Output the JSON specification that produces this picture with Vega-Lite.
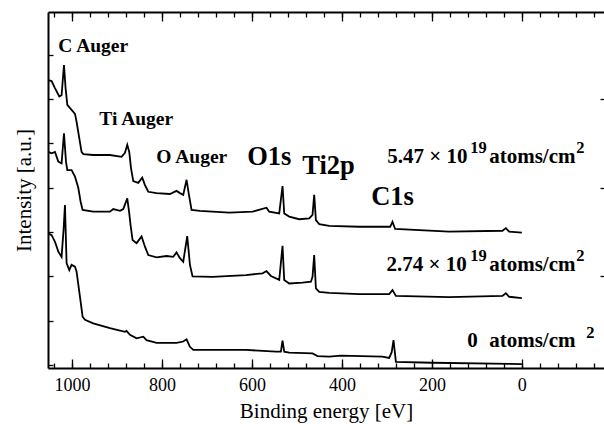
{
  "$schema": "https://vega.github.io/schema/vega-lite/v6.json",
  "autosize": {"type": "none"},
  "padding": {"left": 48, "top": 12, "right": 0, "bottom": 56},
  "width": 556,
  "height": 356,
  "background": "white",
  "config": {
    "view": {"stroke": null},
    "font": "Liberation Serif",
    "axis": {
      "grid": false,
      "domainColor": "black",
      "tickColor": "black",
      "labelColor": "black",
      "titleColor": "black",
      "labelFont": "Liberation Serif",
      "titleFont": "Liberation Serif",
      "titleFontWeight": "normal",
      "domainWidth": 2,
      "tickWidth": 1.3
    }
  },
  "datasets": {
    "spectra": [
      {"series": "5.47e19", "E": 1052.7, "I": 6.43}, {"series": "5.47e19", "E": 1045.3, "I": 6.41}, {"series": "5.47e19", "E": 1037.8, "I": 6.25}, {"series": "5.47e19", "E": 1028.2, "I": 6.06}, {"series": "5.47e19", "E": 1023.1, "I": 6.09}, {"series": "5.47e19", "E": 1017.8, "I": 6.77}, {"series": "5.47e19", "E": 1014.2, "I": 6.25}, {"series": "5.47e19", "E": 1010.4, "I": 5.87}, {"series": "5.47e19", "E": 1000.9, "I": 5.76}, {"series": "5.47e19", "E": 993.3, "I": 5.67}, {"series": "5.47e19", "E": 989.8, "I": 5.49}, {"series": "5.47e19", "E": 983.8, "I": 5.12}, {"series": "5.47e19", "E": 978.7, "I": 4.81}, {"series": "5.47e19", "E": 974.9, "I": 4.76}, {"series": "5.47e19", "E": 952.7, "I": 4.74}, {"series": "5.47e19", "E": 915.6, "I": 4.74}, {"series": "5.47e19", "E": 889.8, "I": 4.70}, {"series": "5.47e19", "E": 882.2, "I": 4.79}, {"series": "5.47e19", "E": 877.1, "I": 4.97}, {"series": "5.47e19", "E": 872.7, "I": 4.81}, {"series": "5.47e19", "E": 868.9, "I": 4.45}, {"series": "5.47e19", "E": 863.8, "I": 4.15}, {"series": "5.47e19", "E": 852.7, "I": 4.11}, {"series": "5.47e19", "E": 843.8, "I": 4.23}, {"series": "5.47e19", "E": 837.8, "I": 4.06}, {"series": "5.47e19", "E": 830.4, "I": 3.91}, {"series": "5.47e19", "E": 812.0, "I": 3.88}, {"series": "5.47e19", "E": 782.2, "I": 3.86}, {"series": "5.47e19", "E": 767.6, "I": 3.93}, {"series": "5.47e19", "E": 760.0, "I": 3.88}, {"series": "5.47e19", "E": 752.7, "I": 3.84}, {"series": "5.47e19", "E": 745.3, "I": 4.18}, {"series": "5.47e19", "E": 740.0, "I": 3.84}, {"series": "5.47e19", "E": 734.2, "I": 3.50}, {"series": "5.47e19", "E": 715.6, "I": 3.48}, {"series": "5.47e19", "E": 650.4, "I": 3.44}, {"series": "5.47e19", "E": 598.7, "I": 3.46}, {"series": "5.47e19", "E": 567.6, "I": 3.55}, {"series": "5.47e19", "E": 561.6, "I": 3.46}, {"series": "5.47e19", "E": 539.3, "I": 3.42}, {"series": "5.47e19", "E": 532.0, "I": 4.04}, {"series": "5.47e19", "E": 528.2, "I": 3.42}, {"series": "5.47e19", "E": 517.1, "I": 3.35}, {"series": "5.47e19", "E": 494.9, "I": 3.29}, {"series": "5.47e19", "E": 472.7, "I": 3.31}, {"series": "5.47e19", "E": 465.3, "I": 3.39}, {"series": "5.47e19", "E": 461.6, "I": 3.84}, {"series": "5.47e19", "E": 457.8, "I": 3.27}, {"series": "5.47e19", "E": 450.4, "I": 3.18}, {"series": "5.47e19", "E": 428.2, "I": 3.14}, {"series": "5.47e19", "E": 361.6, "I": 3.12}, {"series": "5.47e19", "E": 309.8, "I": 3.12}, {"series": "5.47e19", "E": 292.7, "I": 3.12}, {"series": "5.47e19", "E": 287.6, "I": 3.23}, {"series": "5.47e19", "E": 281.6, "I": 3.07}, {"series": "5.47e19", "E": 161.6, "I": 3.01}, {"series": "5.47e19", "E": 43.1, "I": 3.03}, {"series": "5.47e19", "E": 35.6, "I": 3.09}, {"series": "5.47e19", "E": 28.2, "I": 3.01}, {"series": "5.47e19", "E": 0, "I": 2.99},
      {"series": "2.74e19", "E": 1052.7, "I": 4.81}, {"series": "2.74e19", "E": 1045.3, "I": 4.78}, {"series": "2.74e19", "E": 1037.8, "I": 4.81}, {"series": "2.74e19", "E": 1030.4, "I": 4.59}, {"series": "2.74e19", "E": 1023.1, "I": 4.55}, {"series": "2.74e19", "E": 1017.8, "I": 5.23}, {"series": "2.74e19", "E": 1013.3, "I": 4.59}, {"series": "2.74e19", "E": 1010.4, "I": 4.40}, {"series": "2.74e19", "E": 1000.9, "I": 4.40}, {"series": "2.74e19", "E": 993.3, "I": 4.25}, {"series": "2.74e19", "E": 986.0, "I": 4.00}, {"series": "2.74e19", "E": 980.9, "I": 3.69}, {"series": "2.74e19", "E": 976.4, "I": 3.50}, {"series": "2.74e19", "E": 952.7, "I": 3.46}, {"series": "2.74e19", "E": 915.6, "I": 3.46}, {"series": "2.74e19", "E": 908.2, "I": 3.52}, {"series": "2.74e19", "E": 893.3, "I": 3.48}, {"series": "2.74e19", "E": 886.0, "I": 3.52}, {"series": "2.74e19", "E": 877.1, "I": 3.76}, {"series": "2.74e19", "E": 872.7, "I": 3.43}, {"series": "2.74e19", "E": 869.8, "I": 3.16}, {"series": "2.74e19", "E": 865.3, "I": 2.82}, {"series": "2.74e19", "E": 856.4, "I": 2.75}, {"series": "2.74e19", "E": 845.3, "I": 2.90}, {"series": "2.74e19", "E": 837.8, "I": 2.67}, {"series": "2.74e19", "E": 830.4, "I": 2.48}, {"series": "2.74e19", "E": 812.0, "I": 2.43}, {"series": "2.74e19", "E": 789.8, "I": 2.46}, {"series": "2.74e19", "E": 774.9, "I": 2.44}, {"series": "2.74e19", "E": 767.6, "I": 2.54}, {"series": "2.74e19", "E": 760.0, "I": 2.41}, {"series": "2.74e19", "E": 752.7, "I": 2.33}, {"series": "2.74e19", "E": 743.8, "I": 2.91}, {"series": "2.74e19", "E": 737.8, "I": 2.26}, {"series": "2.74e19", "E": 732.0, "I": 2.00}, {"series": "2.74e19", "E": 687.6, "I": 1.99}, {"series": "2.74e19", "E": 613.3, "I": 2.03}, {"series": "2.74e19", "E": 576.4, "I": 2.07}, {"series": "2.74e19", "E": 567.6, "I": 2.12}, {"series": "2.74e19", "E": 557.8, "I": 2.01}, {"series": "2.74e19", "E": 539.3, "I": 1.92}, {"series": "2.74e19", "E": 532.0, "I": 2.69}, {"series": "2.74e19", "E": 528.2, "I": 1.92}, {"series": "2.74e19", "E": 517.1, "I": 1.84}, {"series": "2.74e19", "E": 487.6, "I": 1.86}, {"series": "2.74e19", "E": 468.9, "I": 1.88}, {"series": "2.74e19", "E": 465.3, "I": 1.99}, {"series": "2.74e19", "E": 461.6, "I": 2.48}, {"series": "2.74e19", "E": 457.8, "I": 1.73}, {"series": "2.74e19", "E": 450.4, "I": 1.65}, {"series": "2.74e19", "E": 428.2, "I": 1.63}, {"series": "2.74e19", "E": 361.6, "I": 1.60}, {"series": "2.74e19", "E": 294.9, "I": 1.60}, {"series": "2.74e19", "E": 287.6, "I": 1.69}, {"series": "2.74e19", "E": 280.0, "I": 1.56}, {"series": "2.74e19", "E": 161.6, "I": 1.53}, {"series": "2.74e19", "E": 43.1, "I": 1.56}, {"series": "2.74e19", "E": 35.6, "I": 1.62}, {"series": "2.74e19", "E": 28.2, "I": 1.54}, {"series": "2.74e19", "E": 0, "I": 1.51},
      {"series": "0", "E": 1052.7, "I": 2.97}, {"series": "0", "E": 1045.3, "I": 2.93}, {"series": "0", "E": 1037.8, "I": 2.78}, {"series": "0", "E": 1030.4, "I": 2.56}, {"series": "0", "E": 1023.1, "I": 2.44}, {"series": "0", "E": 1018.7, "I": 3.05}, {"series": "0", "E": 1015.6, "I": 3.61}, {"series": "0", "E": 1012.0, "I": 2.30}, {"series": "0", "E": 1006.0, "I": 2.14}, {"series": "0", "E": 1000.9, "I": 2.26}, {"series": "0", "E": 993.3, "I": 2.22}, {"series": "0", "E": 989.8, "I": 2.11}, {"series": "0", "E": 982.2, "I": 1.54}, {"series": "0", "E": 976.4, "I": 1.09}, {"series": "0", "E": 971.1, "I": 1.02}, {"series": "0", "E": 952.7, "I": 0.94}, {"series": "0", "E": 915.6, "I": 0.83}, {"series": "0", "E": 882.2, "I": 0.75}, {"series": "0", "E": 878.7, "I": 0.77}, {"series": "0", "E": 871.1, "I": 0.68}, {"series": "0", "E": 856.4, "I": 0.60}, {"series": "0", "E": 841.6, "I": 0.64}, {"series": "0", "E": 834.2, "I": 0.56}, {"series": "0", "E": 812.0, "I": 0.50}, {"series": "0", "E": 767.6, "I": 0.50}, {"series": "0", "E": 752.7, "I": 0.53}, {"series": "0", "E": 745.3, "I": 0.58}, {"series": "0", "E": 737.8, "I": 0.41}, {"series": "0", "E": 730.4, "I": 0.34}, {"series": "0", "E": 687.6, "I": 0.34}, {"series": "0", "E": 613.3, "I": 0.34}, {"series": "0", "E": 546.7, "I": 0.30}, {"series": "0", "E": 535.6, "I": 0.30}, {"series": "0", "E": 532.0, "I": 0.55}, {"series": "0", "E": 528.2, "I": 0.30}, {"series": "0", "E": 517.1, "I": 0.28}, {"series": "0", "E": 465.3, "I": 0.26}, {"series": "0", "E": 454.2, "I": 0.20}, {"series": "0", "E": 428.2, "I": 0.19}, {"series": "0", "E": 402.2, "I": 0.21}, {"series": "0", "E": 310.4, "I": 0.19}, {"series": "0", "E": 294.9, "I": 0.16}, {"series": "0", "E": 289.3, "I": 0.29}, {"series": "0", "E": 285.3, "I": 0.56}, {"series": "0", "E": 280.0, "I": 0.07}, {"series": "0", "E": 199.3, "I": 0.05}, {"series": "0", "E": 0, "I": 0.02}
    ],
    "auger": [
      {"E": 1030.4, "I": 7.07, "text": "C Auger"},
      {"E": 939.3, "I": 5.42, "text": "Ti Auger"},
      {"E": 812.7, "I": 4.56, "text": "O Auger"}
    ],
    "peaks": [
      {"E": 610.4, "I": 4.51, "text": "O1s"},
      {"E": 488.2, "I": 4.31, "text": "Ti2p"},
      {"E": 334.9, "I": 3.61, "text": "C1s"}
    ],
    "dose": [
      {"E": 299.3, "I": 4.56, "text": "5.47 × 10"},
      {"E": 72.7, "I": 4.56, "text": "atoms/cm"},
      {"E": 300.9, "I": 2.13, "text": "2.74 × 10"},
      {"E": 72.7, "I": 2.13, "text": "atoms/cm"},
      {"E": 121.6, "I": 0.41, "text": "0"},
      {"E": 72.7, "I": 0.41, "text": "atoms/cm"}
    ],
    "sup": [
      {"E": 114.9, "I": 4.79, "text": "19"},
      {"E": -121, "I": 4.79, "text": "2"},
      {"E": 114.9, "I": 2.35, "text": "19"},
      {"E": -121, "I": 2.35, "text": "2"},
      {"E": -143, "I": 0.62, "text": "2"}
    ]
  },
  "resolve": {"axis": {"x": "independent", "y": "independent"}},
  "layer": [
    {
      "data": {"name": "spectra"},
      "mark": {"type": "line", "color": "black", "strokeWidth": 1.8, "interpolate": "linear"},
      "encoding": {
        "x": {"field": "E", "type": "quantitative", "sort": null,
              "scale": {"domain": [1053.3, -182.6], "nice": false, "zero": false},
              "axis": {"orient": "bottom", "values": [0, 200, 400, 600, 800, 1000], "format": "d", "tickSize": -9, "labelFont": "Liberation Serif", "labelFontSize": 18, "labelPadding": 17, "labelFlush": false, "title": "Binding energy [eV]", "titleFont": "Liberation Serif", "titleFontWeight": "normal", "titleFontSize": 21, "titlePadding": 6}},
        "y": {"field": "I", "type": "quantitative",
              "scale": {"domain": [-0.068, 7.968], "nice": false, "zero": false},
              "axis": {"orient": "left", "values": [0, 1, 2, 3, 4, 5, 6, 7], "tickSize": -5, "labels": false, "title": "Intensity [a.u.]", "titleFont": "Liberation Serif", "titleFontWeight": "normal", "titleFontSize": 21, "titlePadding": 13}},
        "detail": {"field": "series"},
        "order": {"field": "E", "type": "quantitative", "sort": "descending"}
      }
    },
    {
      "data": {"name": "auger"},
      "mark": {"type": "text", "align": "left", "baseline": "alphabetic", "font": "Liberation Serif", "fontWeight": "bold", "fontSize": 19.5, "color": "black"},
      "encoding": {
        "x": {"field": "E", "type": "quantitative",
              "scale": {"domain": [1053.3, -182.6], "nice": false, "zero": false},
              "axis": {"orient": "bottom", "values": [-160, -120, -80, -40, 0, 40, 80, 120, 160, 200, 240, 280, 320, 360, 400, 440, 480, 520, 560, 600, 640, 680, 720, 760, 800, 840, 880, 920, 960, 1000, 1040], "tickSize": -5, "labels": false, "domain": false, "title": null}},
        "y": {"field": "I", "type": "quantitative",
              "scale": {"domain": [-0.068, 7.968], "nice": false, "zero": false},
              "axis": {"orient": "right", "values": [2, 4, 6], "tickSize": -4, "labels": false, "domain": false, "title": null}},
        "text": {"field": "text"}
      }
    },
    {
      "data": {"name": "peaks"},
      "mark": {"type": "text", "align": "left", "baseline": "alphabetic", "font": "Liberation Serif", "fontWeight": "bold", "fontSize": 26.5, "color": "black"},
      "encoding": {
        "x": {"field": "E", "type": "quantitative",
              "scale": {"domain": [1053.3, -182.6], "nice": false, "zero": false},
              "axis": {"orient": "top", "values": [0, 200, 400, 600, 800, 1000], "tickSize": -9, "labels": false, "title": null}},
        "y": {"field": "I", "type": "quantitative",
              "scale": {"domain": [-0.068, 7.968], "nice": false, "zero": false}, "axis": null},
        "text": {"field": "text"}
      }
    },
    {
      "data": {"name": "dose"},
      "mark": {"type": "text", "align": "left", "baseline": "alphabetic", "font": "Liberation Serif", "fontWeight": "bold", "fontSize": 21, "color": "black"},
      "encoding": {
        "x": {"field": "E", "type": "quantitative",
              "scale": {"domain": [1053.3, -182.6], "nice": false, "zero": false},
              "axis": {"orient": "top", "values": [-160, -120, -80, -40, 0, 40, 80, 120, 160, 200, 240, 280, 320, 360, 400, 440, 480, 520, 560, 600, 640, 680, 720, 760, 800, 840, 880, 920, 960, 1000, 1040], "tickSize": -5, "labels": false, "domain": false, "title": null}},
        "y": {"field": "I", "type": "quantitative",
              "scale": {"domain": [-0.068, 7.968], "nice": false, "zero": false}, "axis": null},
        "text": {"field": "text"}
      }
    },
    {
      "data": {"name": "sup"},
      "mark": {"type": "text", "align": "left", "baseline": "alphabetic", "font": "Liberation Serif", "fontWeight": "bold", "fontSize": 16.5, "color": "black"},
      "encoding": {
        "x": {"field": "E", "type": "quantitative",
              "scale": {"domain": [1053.3, -182.6], "nice": false, "zero": false}, "axis": null},
        "y": {"field": "I", "type": "quantitative",
              "scale": {"domain": [-0.068, 7.968], "nice": false, "zero": false}, "axis": null},
        "text": {"field": "text"}
      }
    }
  ]
}
